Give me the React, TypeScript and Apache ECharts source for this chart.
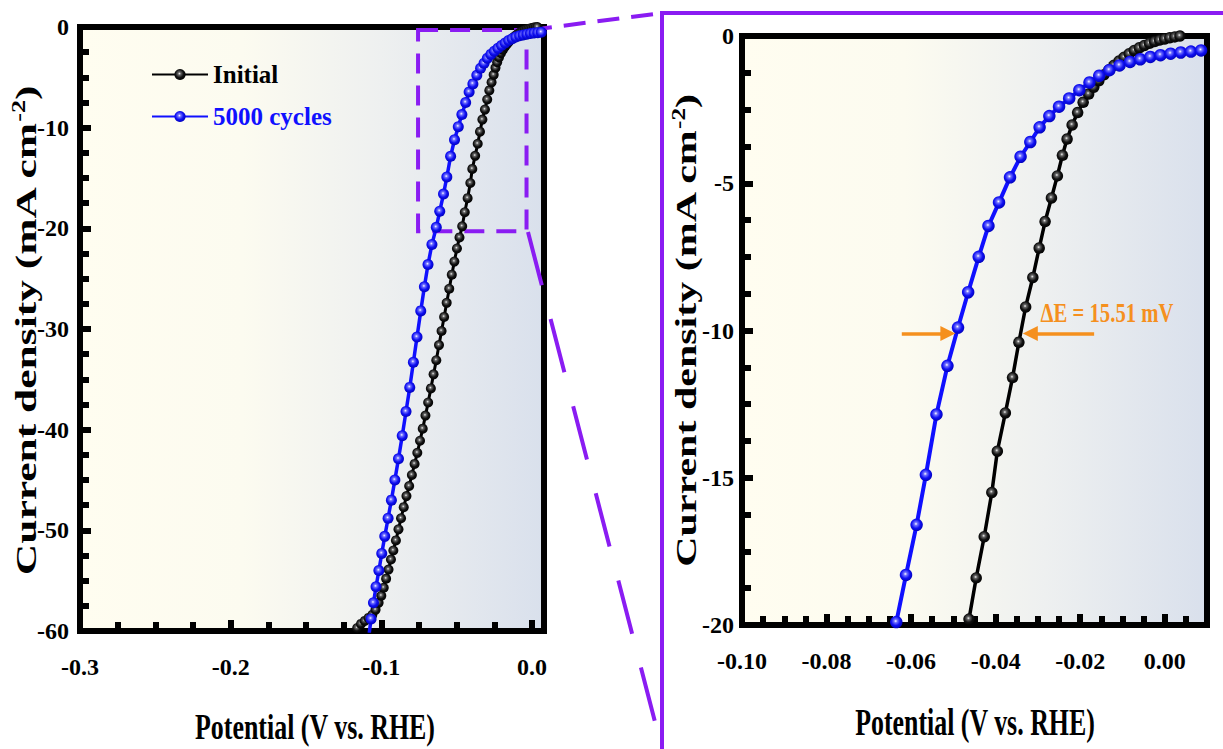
import React, { useEffect, useRef } from "react";
import * as echarts from "echarts";

// ---------------- data ----------------
const initialPotential = [
  -0.1187, -0.116, -0.1135, -0.111, -0.1085, -0.106, -0.1038, -0.1018, -0.1, -0.0984,
  -0.0968, -0.0952, -0.0936, -0.092, -0.0903, -0.0886, -0.0869, -0.0851, -0.0833, -0.0815,
  -0.0797, -0.0779, -0.0761, -0.0743, -0.0725, -0.0707, -0.0689, -0.0671, -0.0653, -0.0635,
  -0.0617, -0.06, -0.0583, -0.0566, -0.0549, -0.0532, -0.0515, -0.0498, -0.0481,
  -0.0463, -0.0446, -0.0427, -0.0409, -0.0396, -0.0377, -0.036, -0.0345, -0.0329, -0.0312,
  -0.0297, -0.0283, -0.0268, -0.0254, -0.0242, -0.0231, -0.0219, -0.0206, -0.0193, -0.018,
  -0.0168, -0.0156, -0.0144, -0.0132, -0.012, -0.0108, -0.0096, -0.0084, -0.0072, -0.006,
  -0.0048, -0.0036, -0.0024, -0.0012, 0.0, 0.0012, 0.0024, 0.0036,
];
const initialCurrent = [
  -60.2, -59.7, -59.3, -59.0, -58.7, -58.4, -57.9, -57.2, -56.5, -55.7,
  -54.8, -53.9, -52.9, -52.0, -51.0, -49.9, -48.8, -47.7, -46.6, -45.6,
  -44.5, -43.4, -42.3, -41.1, -39.9, -38.6, -37.3, -35.9, -34.5, -33.1,
  -31.6, -30.2, -28.8, -27.4, -26.0, -24.6, -23.3, -22.0, -20.9,
  -19.8, -18.4, -17.0, -15.5, -14.1, -12.8, -11.6, -10.4, -9.2, -8.2,
  -7.2, -6.3, -5.5, -4.75, -4.05, -3.5, -3.02, -2.6, -2.25, -1.97,
  -1.74, -1.52, -1.32, -1.15, -0.99, -0.85, -0.72, -0.6, -0.49, -0.4,
  -0.32, -0.25, -0.19, -0.14, -0.1, -0.06, -0.03, 0.0,
];
const cyclesPotential = [
  -0.108, -0.1068, -0.1052, -0.1035, -0.1016, -0.0997, -0.0977, -0.0955, -0.0933, -0.091,
  -0.0886, -0.0861, -0.0836, -0.0811, -0.0787, -0.0763, -0.0738, -0.0714, -0.069, -0.0664,
  -0.0635, -0.0612, -0.0587, -0.0565, -0.054, -0.0514, -0.0489, -0.0465, -0.044, -0.0417,
  -0.0392, -0.0366, -0.0341, -0.0318, -0.0296, -0.0273, -0.025, -0.0226, -0.0202, -0.0178,
  -0.0155, -0.0131, -0.0107, -0.0082, -0.0058, -0.0034, -0.001, 0.0014, 0.0038, 0.0062, 0.0086,
];
const cyclesCurrent = [
  -60.2, -58.8, -57.2, -55.6, -54.0, -52.3, -50.6, -48.8, -47.0, -45.0,
  -42.9, -40.6, -38.2, -35.8, -33.3, -30.8, -28.2, -25.8, -23.6, -21.6,
  -19.9, -18.3, -16.6, -14.9, -12.85, -11.2, -9.9, -8.7, -7.5, -6.45,
  -5.65, -4.8, -4.1, -3.6, -3.1, -2.72, -2.4, -2.12, -1.84, -1.58,
  -1.35, -1.16, -1.0, -0.88, -0.79, -0.71, -0.65, -0.6, -0.56, -0.53, -0.49,
];

const seriesNames = ["Initial", "5000 cycles"];
const leftXTicks = ["-0.3", "-0.2", "-0.1", "0.0"];
const leftYTicks = ["-60", "-50", "-40", "-30", "-20", "-10", "0"];
const rightXTicks = ["-0.10", "-0.08", "-0.06", "-0.04", "-0.02", "0.00"];
const rightYTicks = ["-20", "-15", "-10", "-5", "0"];

// zoom window drawn on the left panel (potential, current)
const zoomBoxFrom = [-0.0756, -0.3];
const zoomBoxTo = [-0.0036, -20.3];
// ΔE arrows at j = -10 mA cm-2
const arrowLeft = [[-0.0622, -10.1], [-0.0513, -10.1]];
const arrowRight = [[-0.0167, -10.1], [-0.0318, -10.1]];
const deltaLabel = "ΔE = 15.51 mV";

// ---------------- styling ----------------
const FONT = "Liberation Serif, Times New Roman, serif";
const PURPLE = "#8a1cf2";
const ORANGE = "#f5901e";
const BLUE = "#1010ff";

function tickFormatter(list: string[], digits: number) {
  return (v: number) => {
    let s = v.toFixed(digits);
    if (parseFloat(s) === 0) s = (0).toFixed(digits);
    return list.includes(s) && Math.abs(v - parseFloat(s)) < 1e-9 ? s : "";
  };
}

function labelStyle(margin: number, list: string[], digits: number) {
  return {
    show: true,
    color: "#000",
    fontFamily: FONT,
    fontWeight: "bold",
    fontSize: 24,
    margin,
    formatter: tickFormatter(list, digits),
  };
}

const tickStyle = { show: true, inside: true, length: 11, lineStyle: { color: "#000", width: 6 } };
const minorStyle = { show: true, splitNumber: 4, length: 9, lineStyle: { color: "#000", width: 6 } };

function makeX(gridIndex: number, min: number, max: number, interval: number, list: string[], digits: number) {
  return {
    type: "value",
    gridIndex,
    min,
    max,
    interval,
    axisLine: { show: true, onZero: false, lineStyle: { color: "#000", width: 6 } },
    axisTick: tickStyle,
    minorTick: minorStyle,
    splitLine: { show: false },
    minorSplitLine: { show: false },
    axisLabel: labelStyle(24, list, digits),
  };
}
function makeY(gridIndex: number, min: number, max: number, interval: number, list: string[], margin: number) {
  return {
    type: "value",
    gridIndex,
    min,
    max,
    interval,
    axisLine: { show: true, onZero: false, lineStyle: { color: "#000", width: 6 } },
    axisTick: tickStyle,
    minorTick: minorStyle,
    splitLine: { show: false },
    minorSplitLine: { show: false },
    axisLabel: labelStyle(margin, list, 0),
  };
}

export default function App() {
  const ref = useRef<HTMLDivElement>(null);
  useEffect(() => {
    if (!ref.current) return;
    const chart = echarts.init(ref.current, undefined, { renderer: "svg" });

    const bg = () =>
      new echarts.graphic.LinearGradient(0, 0, 1, 0, [
        { offset: 0, color: "#fffdf0" },
        { offset: 0.35, color: "#fcfbf0" },
        { offset: 0.65, color: "#eef0f0" },
        { offset: 1, color: "#d9e0ec" },
      ]);
    const blackBall = new echarts.graphic.RadialGradient(0.45, 0.42, 0.6, [
      { offset: 0, color: "#f4f4f4" },
      { offset: 0.22, color: "#666" },
      { offset: 0.6, color: "#111" },
      { offset: 1, color: "#000" },
    ]);
    const blueBall = new echarts.graphic.RadialGradient(0.45, 0.42, 0.6, [
      { offset: 0, color: "#ffffff" },
      { offset: 0.22, color: "#7070ff" },
      { offset: 0.6, color: "#1010f2" },
      { offset: 1, color: "#0000b8" },
    ]);

    const initialData = initialPotential.map((x, i) => [x, initialCurrent[i]]);
    const cyclesData = cyclesPotential.map((x, i) => [x, cyclesCurrent[i]]);

    const lineSeries = (name: string, idx: number, data: number[][], color: string, ball: any, size: number, width: number) => ({
      name,
      type: "line",
      xAxisIndex: idx,
      yAxisIndex: idx,
      data,
      symbol: "circle",
      symbolSize: size,
      showSymbol: true,
      showAllSymbol: true,
      clip: true,
      lineStyle: { color, width },
      itemStyle: { color: ball },
      emphasis: { disabled: true },
      animation: false,
    });

    const option: any = {
      animation: false,
      backgroundColor: "#fff",
      textStyle: { fontFamily: FONT },
      legend: {
        orient: "vertical",
        left: 146,
        top: 57,
        itemWidth: 56,
        itemHeight: 14,
        itemGap: 17,
        textStyle: { fontFamily: FONT, fontWeight: "bold", fontSize: 25 },
        data: [
          { name: seriesNames[0], textStyle: { color: "#000" } },
          { name: seriesNames[1], textStyle: { color: BLUE } },
        ],
        selectedMode: false,
      },
      grid: [
        { left: 80, top: 27, width: 464, height: 604, show: true, borderColor: "#000", borderWidth: 6, backgroundColor: bg() },
        { left: 742, top: 36, width: 465, height: 589, show: true, borderColor: "#000", borderWidth: 6, backgroundColor: bg() },
      ],
      xAxis: [
        makeX(0, -0.3, 0.008, 0.1, leftXTicks, 1),
        makeX(1, -0.1, 0.01, 0.02, rightXTicks, 2),
      ],
      yAxis: [
        makeY(0, -60, 0, 10, leftYTicks, 11),
        makeY(1, -20, 0, 5, rightYTicks, 8),
      ],
      series: [
        {
          ...lineSeries(seriesNames[0], 0, initialData, "#000", blackBall, 10, 3),
          markArea: {
            silent: true,
            itemStyle: { color: "rgba(0,0,0,0)", borderColor: PURPLE, borderWidth: 4, borderType: [20, 12] },
            label: { show: false },
            data: [[{ coord: zoomBoxFrom }, { coord: zoomBoxTo }]],
          },
        },
        lineSeries(seriesNames[1], 0, cyclesData, BLUE, blueBall, 11, 3.5),
        lineSeries(seriesNames[0], 1, initialData, "#000", blackBall, 11.5, 3.5),
        {
          ...lineSeries(seriesNames[1], 1, cyclesData, BLUE, blueBall, 12.5, 4),
          markLine: {
            silent: true,
            symbol: ["none", "triangle"],
            symbolSize: [15, 15],
            label: { show: false },
            emphasis: { disabled: true },
            lineStyle: { color: ORANGE, width: 3.5, type: "solid" },
            itemStyle: { color: ORANGE },
            data: [
              [{ coord: arrowLeft[0] }, { coord: arrowLeft[1] }],
              [{ coord: arrowRight[0] }, { coord: arrowRight[1] }],
            ],
          },
        },
      ],
      graphic: [
        {
          type: "rect",
          silent: true,
          shape: { x: 662, y: 13, width: 640, height: 820 },
          style: { fill: "transparent", stroke: PURPLE, lineWidth: 4 },
        },
        {
          type: "line",
          silent: true,
          shape: { x1: 530, y1: 30, x2: 662, y2: 13 },
          style: { stroke: PURPLE, lineWidth: 4, lineDash: [22, 12] },
        },
        {
          type: "line",
          silent: true,
          shape: { x1: 528, y1: 232, x2: 662, y2: 749 },
          style: { stroke: PURPLE, lineWidth: 4, lineDash: [55, 35] },
        },
        {
          type: "text",
          silent: true,
          x: 315,
          y: 727,
          scaleX: 0.72,
          style: {
            text: "Potential (V vs. RHE)",
            fontFamily: FONT,
            fontWeight: "bold",
            fontSize: 36,
            fill: "#000",
            align: "center",
            verticalAlign: "middle",
          },
        },
        {
          type: "text",
          silent: true,
          x: 975,
          y: 723,
          scaleX: 0.7,
          style: {
            text: "Potential (V vs. RHE)",
            fontFamily: FONT,
            fontWeight: "bold",
            fontSize: 37,
            fill: "#000",
            align: "center",
            verticalAlign: "middle",
          },
        },
        ...[
          { x: 26, y: 331, s: 1.45 },
          { x: 686, y: 331, s: 1.4 },
        ].map((p) => ({
          type: "text",
          silent: true,
          x: p.x,
          y: p.y,
          rotation: Math.PI / 2,
          scaleX: p.s,
          style: {
            text: "{n|Current density (mA cm}{s|-2}{n|)}",
            fontFamily: FONT,
            fontWeight: "bold",
            fontSize: 30,
            fill: "#000",
            align: "center",
            verticalAlign: "middle",
            rich: {
              n: { fontFamily: FONT, fontWeight: "bold", fontSize: 30, fill: "#000" },
              s: { fontFamily: FONT, fontWeight: "bold", fontSize: 18, fill: "#000", padding: [0, 0, 14, 0] },
            },
          },
        })),
        {
          type: "text",
          silent: true,
          x: 1107,
          y: 312,
          scaleX: 0.74,
          style: {
            text: deltaLabel,
            fontFamily: FONT,
            fontWeight: "bold",
            fontSize: 28,
            fill: ORANGE,
            align: "center",
            verticalAlign: "middle",
          },
        },
      ],
    };

    chart.setOption(option);
    return () => chart.dispose();
  }, []);

  return (
    <div
      ref={ref}
      style={{ position: "fixed", left: 0, top: 0, width: 1223, height: 749, background: "#fff" }}
    />
  );
}
